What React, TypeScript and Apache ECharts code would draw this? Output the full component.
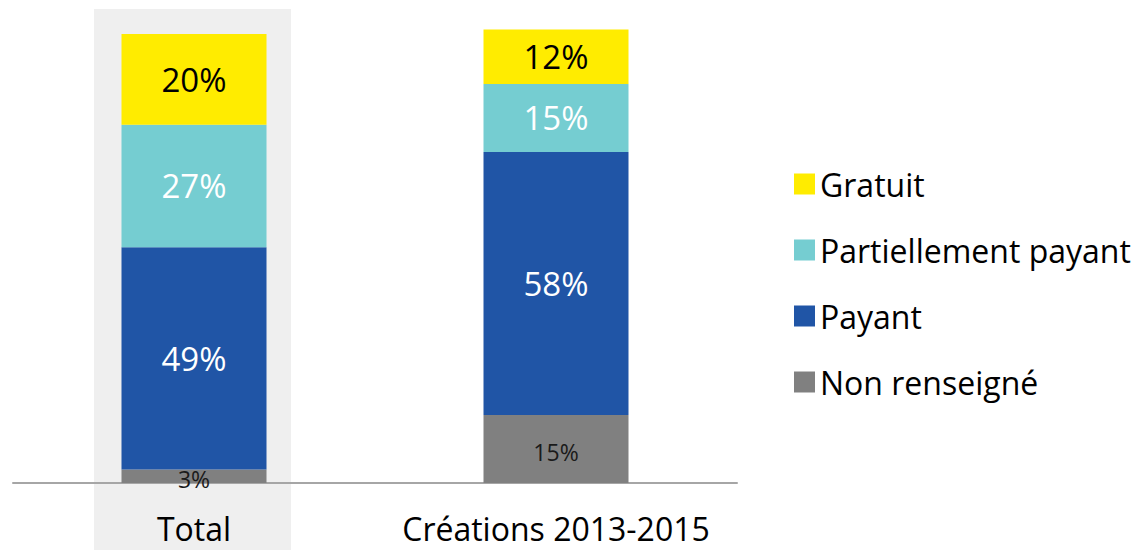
import React, { useEffect, useRef } from "react";
import * as echarts from "echarts";

const categories = ["Total", "Créations 2013-2015"];
const nonRenseigne = [3, 15];
const payant = [49, 58];
const partiellement = [27, 15];
const gratuit = [20, 12];

const FONT = "Open Sans";

export default function App() {
  const ref = useRef<HTMLDivElement>(null);
  useEffect(() => {
    const chart = echarts.init(ref.current!, null, { renderer: "svg" });
    const mk = (name: string, data: number[], color: string, labelColor: string, labelSize: number, offset: number[] = [0, 0]) => ({
      name,
      type: "bar",
      stack: "s",
      data,
      barWidth: 145,
      itemStyle: { color },
      label: {
        show: true,
        position: "inside",
        formatter: "{c}%",
        color: labelColor,
        fontSize: labelSize,
        fontFamily: FONT,
        offset,
      },
    });
    chart.setOption({
      animation: false,
      textStyle: { fontFamily: FONT },
      graphic: [
        { type: "rect", z: -10, shape: { x: 94, y: 9, width: 197, height: 541 }, style: { fill: "#efefef" } },
      ],
      grid: { left: 13, right: 405, top: 29.5, bottom: 67, containLabel: false },
      xAxis: {
        type: "category",
        data: categories,
        axisLine: { lineStyle: { color: "#a6a6a6", width: 2 } },
        axisTick: { show: false },
        axisLabel: { color: "#000", fontSize: 32, lineHeight: 32, fontFamily: FONT, margin: 29, interval: 0, hideOverlap: false },
      },
      yAxis: { type: "value", min: 0, max: 100, show: false, splitLine: { show: false } },
      legend: {
        orient: "vertical",
        left: 789,
        top: 163,
        itemWidth: 21,
        itemHeight: 21,
        itemGap: 34,
        icon: "rect",
        data: ["Gratuit", "Partiellement payant", "Payant", "Non renseigné"],
        textStyle: { fontSize: 32, color: "#000", fontFamily: FONT },
      },
      series: [
        mk("Non renseigné", nonRenseigne, "#808080", "#1a1a1a", 23, [0, 3]),
        mk("Payant", payant, "#2055a6", "#fff", 33),
        mk("Partiellement payant", partiellement, "#75cdd1", "#fff", 33),
        mk("Gratuit", gratuit, "#ffec00", "#000", 33),
      ],
    });
    return () => chart.dispose();
  }, []);
  return <div ref={ref} style={{ width: 1142, height: 550, position: "absolute", left: 0, top: 0 }} />;
}
